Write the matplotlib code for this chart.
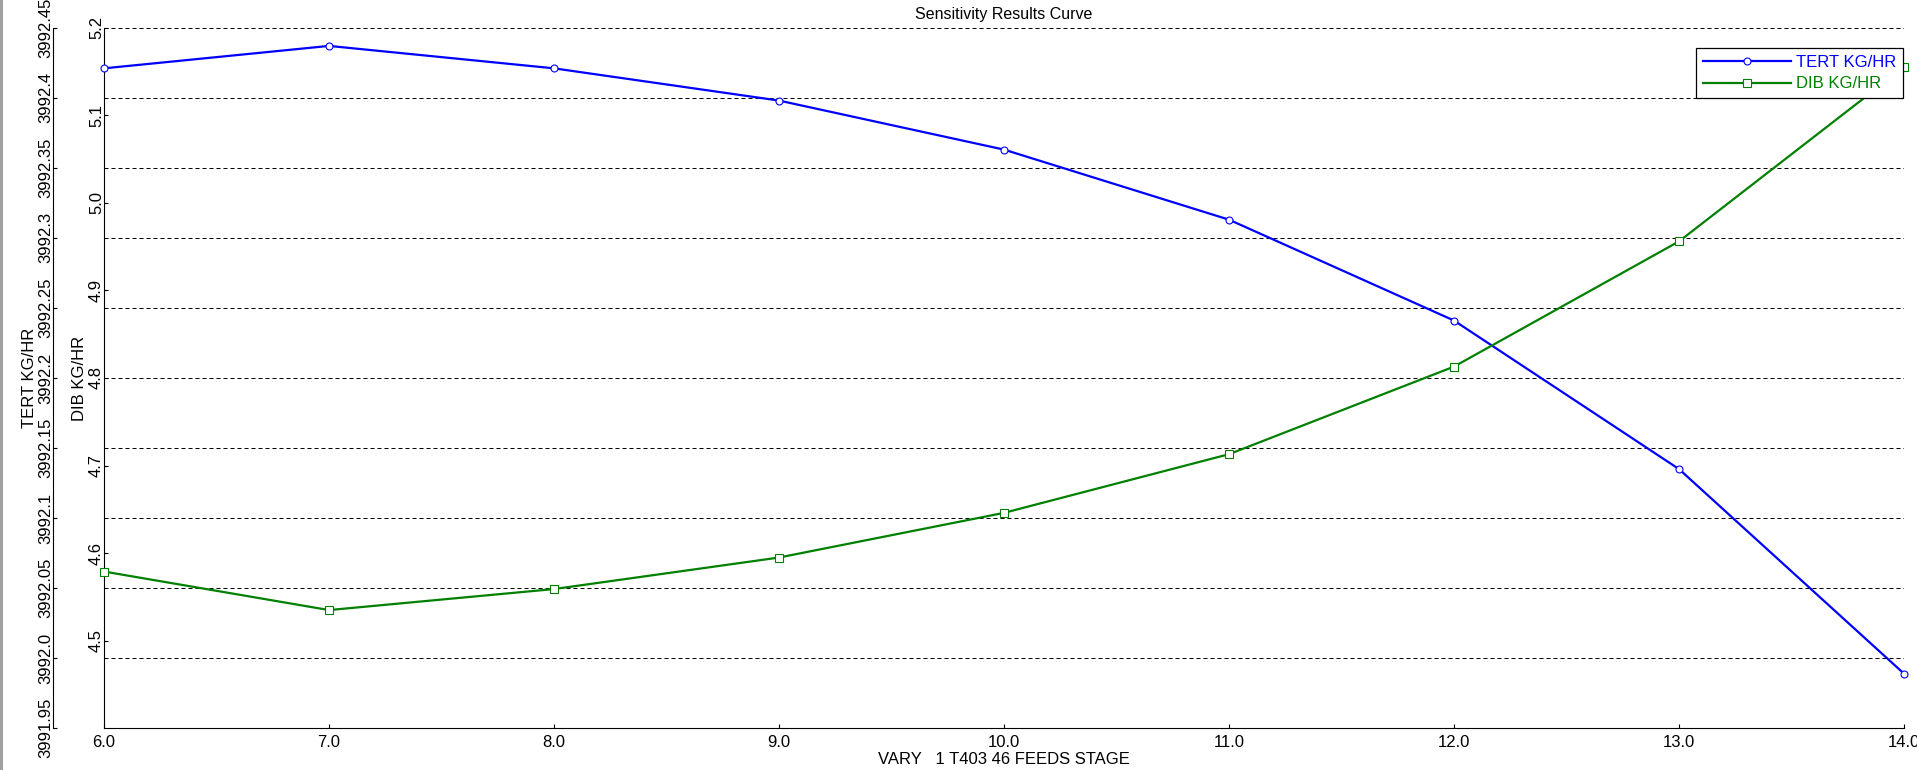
#!/usr/bin/python
#
# Sensitivity results curve: TERT and DIB flow rates against the feed stage.
# Two y axes on the left, the outer one for TERT and the inner one for DIB.
#
import numpy as np
import matplotlib
matplotlib.use("Agg")
import matplotlib.pyplot as plt
from matplotlib.patches import Rectangle

plt.rcParams['font.family'] = ['Liberation Sans', 'DejaVu Sans']

# Values.
stage = [6.0, 7.0, 8.0, 9.0, 10.0, 11.0, 12.0, 13.0, 14.0]
tert = [3992.421, 3992.437, 3992.421, 3992.398, 3992.363,
        3992.313, 3992.241, 3992.135, 3991.989]
dib = [4.579, 4.535, 4.559, 4.595, 4.646, 4.713, 4.813, 4.956, 5.155]

x_ticks = [6.0, 7.0, 8.0, 9.0, 10.0, 11.0, 12.0, 13.0, 14.0]
x_labels = ["6.0", "7.0", "8.0", "9.0", "10.0", "11.0", "12.0", "13.0", "14.0"]

tert_ticks = [3991.95, 3992.0, 3992.05, 3992.1, 3992.15, 3992.2,
              3992.25, 3992.3, 3992.35, 3992.4, 3992.45]
tert_labels = ["3991.95", "3992.0", "3992.05", "3992.1", "3992.15", "3992.2",
               "3992.25", "3992.3", "3992.35", "3992.4", "3992.45"]

dib_ticks = [4.5, 4.6, 4.7, 4.8, 4.9, 5.0, 5.1, 5.2]
dib_labels = ["4.5", "4.6", "4.7", "4.8", "4.9", "5.0", "5.1", "5.2"]

blue = '#0000ff'
green = '#008000'

fig = plt.figure(figsize=(19.17, 7.70), dpi=100)
fig.patch.set_facecolor('white')

# thin grey border down the left edge of the window
fig.add_artist(Rectangle((0, 0), 3.0 / 1917, 1, transform=fig.transFigure,
                         facecolor='#a0a0a0', edgecolor='none'))

# Main axes carries the TERT scale (outer spine) and the grid.
ax = fig.add_axes([0.054252, 0.054156, 0.938967, 0.909870])
ax.set_xlim(6.0, 14.0)
ax.set_ylim(3991.95, 3992.45)
ax.spines['top'].set_visible(False)
ax.spines['right'].set_visible(False)
ax.spines['left'].set_position(('outward', 36.7))
for s in ('left', 'bottom'):
    ax.spines[s].set_linewidth(0.8)

ax.set_xticks(x_ticks, x_labels)
ax.set_yticks(tert_ticks, tert_labels)
ax.tick_params(axis='both', direction='in', length=3, width=0.8,
               labelsize=12, colors='black')
ax.tick_params(axis='x', pad=4.5)
ax.tick_params(axis='y', pad=0)
for lab in ax.get_yticklabels():
    lab.set_rotation(90)
    lab.set_va('center')

ax.yaxis.grid(True, color='black', linewidth=0.72, linestyle=(0, (4, 3)))
ax.set_axisbelow(True)

ax.set_ylabel("TERT KG/HR", fontsize=12)
ax.yaxis.set_label_coords(-0.0375, 0.5)
ax.set_xlabel("VARY   1 T403 46 FEEDS STAGE", fontsize=12)
ax.xaxis.set_label_coords(0.5, -0.034)
ax.set_title("Sensitivity Results Curve", fontsize=11.5, pad=6)

# Twin axes for DIB, its spine sits on the left edge of the plot area.
ax2 = ax.twinx()
ax2.set_ylim(4.4, 5.2)
ax2.yaxis.tick_left()
ax2.yaxis.set_label_position('left')
for s in ('top', 'right', 'bottom'):
    ax2.spines[s].set_visible(False)
ax2.spines['left'].set_linewidth(0.8)
ax2.set_yticks(dib_ticks, dib_labels)
ax2.tick_params(axis='y', direction='in', length=3, width=0.8,
                labelsize=12, pad=0)
for lab in ax2.get_yticklabels():
    lab.set_rotation(90)
    lab.set_va('center')
ax2.set_ylabel("DIB KG/HR", fontsize=12)
ax2.yaxis.set_label_coords(-0.0097, 0.5)

# Both curves live in the top axes so the markers sit over the spines;
# the TERT curve still uses the TERT scale through its transform.
l1, = ax2.plot(stage, tert, transform=ax.transData, color=blue, lw=1.6,
               marker='o', ms=5, mfc='white', mec=blue, mew=0.8,
               clip_on=False, zorder=3, label="TERT KG/HR")
l2, = ax2.plot(stage, dib, color=green, lw=1.6,
               marker='s', ms=5.8, mfc='white', mec=green, mew=0.8,
               clip_on=False, zorder=3, label="DIB KG/HR")
ax2.set_xlim(6.0, 14.0)
ax2.set_ylim(4.4, 5.2)

leg = ax2.legend(handles=[l1, l2], loc='upper right',
                 bbox_to_anchor=(0.9994, 0.971), borderaxespad=0,
                 fontsize=12, labelcolor='linecolor', fancybox=False,
                 framealpha=1, edgecolor='black', numpoints=1,
                 handlelength=5.3, handletextpad=0.3, labelspacing=0.4,
                 borderpad=0.4)
leg.get_frame().set_linewidth(0.9)
leg.set_zorder(10)

fig.savefig("out.png", dpi=100)
